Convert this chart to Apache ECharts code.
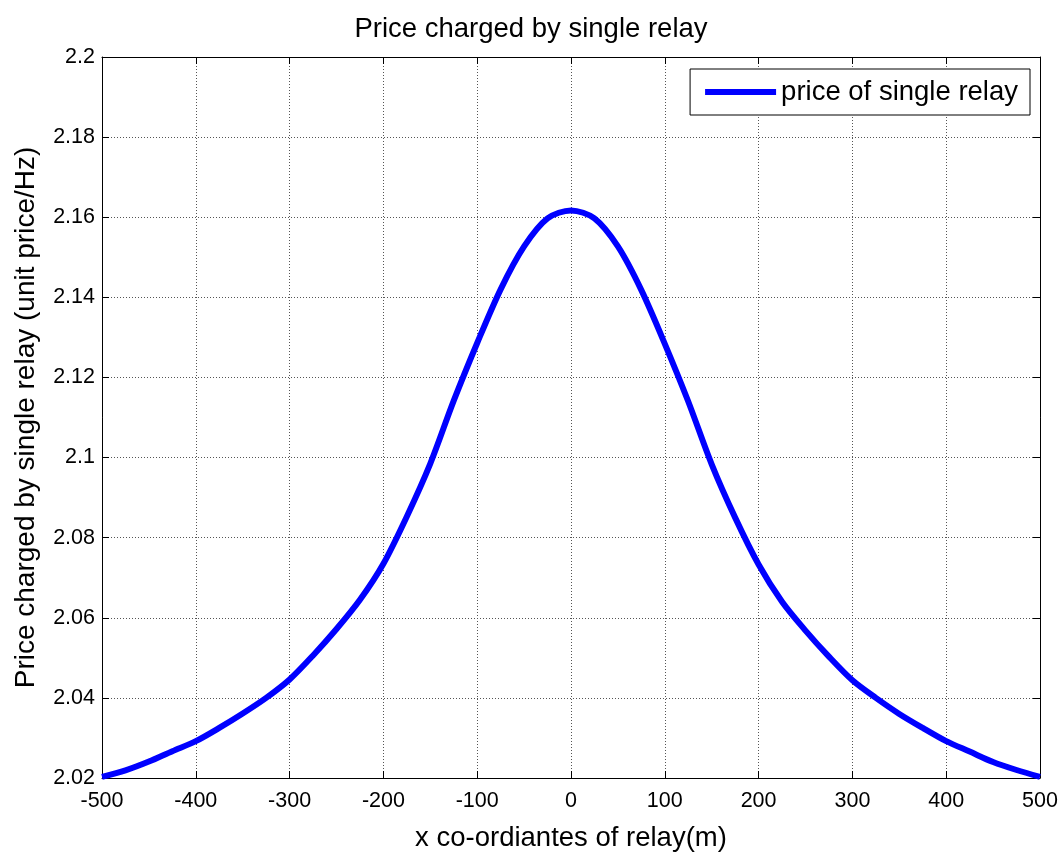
<!DOCTYPE html>
<html>
<head>
<meta charset="utf-8">
<script src="https://cdn.jsdelivr.net/npm/echarts@6/dist/echarts.min.js"></script>
<style>html,body{margin:0;padding:0;background:#fff}#c{width:1062px;height:853px}</style>
</head>
<body>
<div id="c"></div>
<script>
const titleText = 'Price charged by single relay';
const xName = 'x co-ordiantes of relay(m)';
const yName = 'Price charged by single relay (unit price/Hz)';
const seriesName = 'price of single relay';
const xTicks = [-500, -400, -300, -200, -100, 0, 100, 200, 300, 400, 500];
const yTicks = [2.02, 2.04, 2.06, 2.08, 2.1, 2.12, 2.14, 2.16, 2.18, 2.2];
const xValues = [-500,-475,-450,-425,-400,-375,-350,-325,-300,-275,-250,-225,-200,-175,-150,-125,-100,-75,-50,-25,0,
  25,50,75,100,125,150,175,200,225,250,275,300,325,350,375,400,425,450,475,500];
const priceValues = [2.0203,2.0219,2.0241,2.0267,2.0292,2.0325,2.0361,2.0400,2.0446,2.0506,2.0572,2.0645,2.0735,2.0853,2.0985,2.1142,2.1286,2.1420,2.1527,2.1597,2.1617,
  2.1597,2.1527,2.1418,2.1284,2.1140,2.0983,2.0850,2.0733,2.0640,2.0568,2.0503,2.0444,2.0400,2.0360,2.0325,2.0292,2.0266,2.0240,2.0220,2.0203];

const chart = echarts.init(document.getElementById('c'));
const font = 'Liberation Sans, Arial, sans-serif';
const gridLine = {show: true, lineStyle: {color: '#555', width: 1, type: [1, 2]}};
const tickStyle = {show: true, inside: true, length: 7, lineStyle: {color: '#000'}};
const axisLineStyle = {show: true, onZero: false, lineStyle: {color: '#000', width: 1}};
chart.setOption({
  animation: false,
  backgroundColor: '#fff',
  textStyle: {fontFamily: font},
  title: {text: titleText, left: 'center', top: 10, textStyle: {fontSize: 27.5, fontWeight: 'normal', color: '#000', fontFamily: font}},
  legend: {
    data: [seriesName], right: 32, top: 69, orient: 'vertical',
    icon: 'rect', itemWidth: 71, itemHeight: 6, itemGap: 0,
    padding: [9, 12, 9, 15],
    borderColor: '#000', borderWidth: 1, backgroundColor: '#fff',
    textStyle: {fontSize: 27.5, color: '#000', fontFamily: font}
  },
  grid: {left: 102, right: 22, top: 57, bottom: 75, containLabel: false, outerBoundsMode: 'none'},
  xAxis: [{
    type: 'value', min: -500, max: 500, interval: 100,
    name: xName, nameLocation: 'middle', nameGap: 46,
    nameTextStyle: {fontSize: 27.5, color: '#000', fontFamily: font},
    axisLine: axisLineStyle, axisTick: tickStyle,
    axisLabel: {fontSize: 21.5, color: '#000', margin: 12, fontFamily: font,
      formatter: v => xTicks.includes(v) ? String(v) : ''},
    splitLine: gridLine
  }, {
    type: 'value', min: -500, max: 500, interval: 100, position: 'top',
    axisLine: axisLineStyle, axisTick: tickStyle,
    axisLabel: {show: false}, splitLine: {show: false}
  }],
  yAxis: [{
    type: 'value', min: 2.02, max: 2.2, interval: 0.02,
    name: yName, nameLocation: 'middle', nameGap: 62,
    nameTextStyle: {fontSize: 28, color: '#000', fontFamily: font},
    axisLine: axisLineStyle, axisTick: tickStyle,
    axisLabel: {fontSize: 21.5, color: '#000', margin: 7, fontFamily: font,
      formatter: v => { const t = yTicks.find(y => Math.abs(y - v) < 1e-9); return t === undefined ? '' : String(t); }},
    splitLine: gridLine
  }, {
    type: 'value', min: 2.02, max: 2.2, interval: 0.02, position: 'right',
    axisLine: axisLineStyle, axisTick: tickStyle,
    axisLabel: {show: false}, splitLine: {show: false}
  }],
  series: [{
    name: seriesName, type: 'line',
    data: xValues.map((x, i) => [x, priceValues[i]]),
    showSymbol: false, symbol: 'none', smooth: 0.3,
    itemStyle: {color: '#0000ff'},
    lineStyle: {color: '#0000ff', width: 6},
    clip: false
  }]
});
</script>
</body>
</html>
